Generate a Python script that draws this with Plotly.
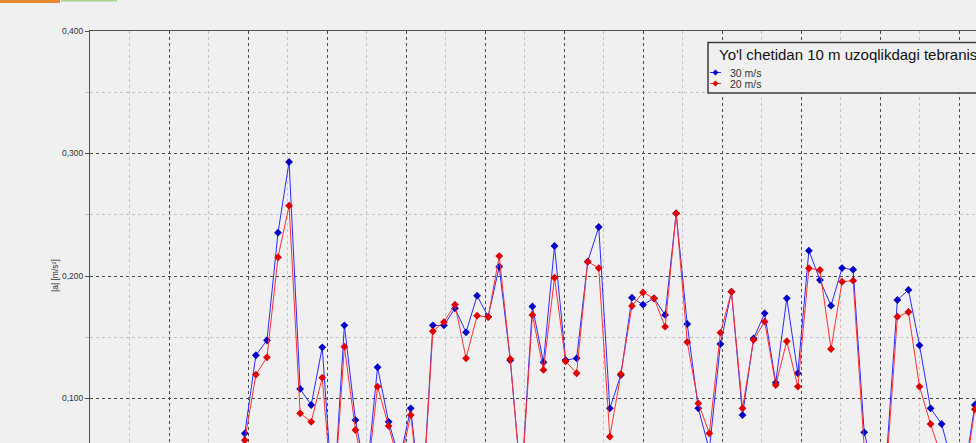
import plotly.graph_objects as go

# sample step along the x axis (major grid every 1.0)
X_STEP = 0.14

# |a| [m/s^2] per sample (values below the visible area are estimates)
ACC_30 = [
    0.012, 0.010, 0.014, 0.011, 0.016, 0.013, 0.018, 0.015, 0.020, 0.017,
    0.024, 0.028, 0.022, 0.020, 0.0716, 0.1353, 0.1475, 0.2354, 0.2931, 0.1078,
    0.0947, 0.1418, 0.012, 0.1597, 0.0824, 0.035, 0.1255, 0.0810, 0.050, 0.0920,
    0.008, 0.1597, 0.1597, 0.1736, 0.1540, 0.1839, 0.1668, 0.2076, 0.1312, 0.030,
    0.1752, 0.1296, 0.2245, 0.1314, 0.1328, 0.2117, 0.2400, 0.0920, 0.1192, 0.1823,
    0.1766, 0.1818, 0.1682, 0.2512, 0.1608, 0.0920, 0.0580, 0.1445, 0.1872, 0.0865,
    0.1490, 0.1695, 0.1129, 0.1818, 0.1206, 0.2207, 0.1967, 0.1758, 0.2065, 0.2052,
    0.0724, 0.035, 0.050, 0.1804, 0.1886, 0.1434, 0.0920, 0.0792, 0.045, 0.035,
    0.0947, 0.1300,
]
ACC_20 = [
    0.010, 0.009, 0.012, 0.010, 0.014, 0.012, 0.016, 0.013, 0.018, 0.015,
    0.021, 0.025, 0.020, 0.018, 0.0660, 0.1195, 0.1336, 0.2153, 0.2574, 0.0879,
    0.0810, 0.1170, 0.010, 0.1423, 0.0743, 0.030, 0.1097, 0.0776, 0.045, 0.0865,
    0.006, 0.1549, 0.1624, 0.1766, 0.1328, 0.1676, 0.1665, 0.2163, 0.1322, 0.028,
    0.1682, 0.1233, 0.1986, 0.1304, 0.1206, 0.2117, 0.2065, 0.0688, 0.1200, 0.1755,
    0.1866, 0.1818, 0.1586, 0.2512, 0.1461, 0.0960, 0.0716, 0.1537, 0.1872, 0.0920,
    0.1478, 0.1627, 0.1110, 0.1467, 0.1097, 0.2063, 0.2049, 0.1404, 0.1954, 0.1962,
    0.0600, 0.030, 0.040, 0.1668, 0.1706, 0.1097, 0.0792, 0.052, 0.040, 0.030,
    0.0912, 0.1250,
]

SERIES_NAMES = ["30 m/s", "20 m/s"]
LEGEND_TITLE = "Yo'l chetidan 10 m uzoqlikdagi tebranis"
Y_LABEL = "|a| [m/s²]"

WIDTH, HEIGHT = 976, 443
M_LEFT, M_TOP = 90, 31
BG = "#f0f0f0"
MAJOR_GRID = "#4a4a4a"
MINOR_GRID = "#c4c4c4"
AXIS_COLOR = "#505050"
TEXT_COLOR = "#333333"
FONT = "Liberation Sans, Arial, sans-serif"

LINE_COLORS = ["#2a2aff", "#ff3030"]
MARKER_COLORS = ["#0000c8", "#e00000"]

PLOT_W = WIDTH - M_LEFT
PLOT_H = HEIGHT - M_TOP


def px(x, y):
    """pixel position on the page -> paper coordinates"""
    return (x - M_LEFT) / PLOT_W, 1 - (y - M_TOP) / PLOT_H


x_vals = [i * X_STEP for i in range(len(ACC_30))]

fig = go.Figure()
for name, values, lc, mc in zip(SERIES_NAMES, [ACC_30, ACC_20], LINE_COLORS, MARKER_COLORS):
    fig.add_trace(
        go.Scatter(
            x=x_vals,
            y=values,
            name=name,
            mode="lines+markers",
            line=dict(color=lc, width=1),
            marker=dict(color=mc, size=6, symbol="diamond"),
            showlegend=False,
        )
    )

shapes = []
# tab strips at the very top of the window
x0, y0 = px(0, 0)
x1, y1 = px(60, 3)
shapes.append(dict(type="rect", xref="paper", yref="paper", x0=x0, x1=x1, y0=y1, y1=y0,
                   fillcolor="#e38a2e", line_width=0, layer="above"))
x0, _ = px(61, 0)
x1, y1 = px(117, 1.5)
shapes.append(dict(type="rect", xref="paper", yref="paper", x0=x0, x1=x1, y0=y1, y1=y0,
                   fillcolor="#a6d490", line_width=0, layer="above"))

# legend box
bx0, by1 = px(708, 42.5)
bx1, by0 = px(1000, 93)
shapes.append(dict(type="rect", xref="paper", yref="paper", x0=bx0, x1=bx1, y0=by0, y1=by1,
                   fillcolor=BG, line=dict(color="#3a3a3a", width=1.5), layer="above"))

annotations = [
    dict(text=LEGEND_TITLE, xref="paper", yref="paper", x=px(717, 0)[0], y=px(0, 55)[1],
         xanchor="left", yanchor="middle", showarrow=False,
         font=dict(family=FONT, size=15, color="#111111")),
    dict(text=Y_LABEL, xref="paper", yref="paper", x=px(55, 0)[0], y=px(0, 276)[1],
         xanchor="center", yanchor="middle", textangle=-90, showarrow=False,
         font=dict(family=FONT, size=8.5, color=TEXT_COLOR)),
]

for k, (name, lc, mc) in enumerate(zip(SERIES_NAMES, LINE_COLORS, MARKER_COLORS)):
    ly = 72.5 + k * 11
    sx0, sy = px(710, ly)
    sx1, _ = px(721, ly)
    shapes.append(dict(type="line", xref="paper", yref="paper", x0=sx0, x1=sx1, y0=sy, y1=sy,
                       line=dict(color=lc, width=1), layer="above"))
    cx, cy = 715.5, ly
    pts = [px(cx, cy - 3), px(cx + 3, cy), px(cx, cy + 3), px(cx - 3, cy)]
    path = "M " + " L ".join(f"{a},{b}" for a, b in pts) + " Z"
    shapes.append(dict(type="path", xref="paper", yref="paper", path=path,
                       fillcolor=mc, line_width=0, layer="above"))
    annotations.append(
        dict(text=name, xref="paper", yref="paper", x=px(728, 0)[0], y=px(0, ly)[1],
             xanchor="left", yanchor="middle", showarrow=False,
             font=dict(family=FONT, size=10.5, color=TEXT_COLOR))
    )

fig.update_layout(
    width=WIDTH,
    height=HEIGHT,
    margin=dict(l=M_LEFT, r=0, t=M_TOP, b=0, pad=0),
    paper_bgcolor=BG,
    plot_bgcolor=BG,
    separators=", ",
    font=dict(family=FONT, size=8.5, color=TEXT_COLOR),
    shapes=shapes,
    annotations=annotations,
    showlegend=False,
)

fig.update_xaxes(
    range=[0, PLOT_W / 79],
    side="top",
    showline=True,
    linecolor=AXIS_COLOR,
    linewidth=1,
    showticklabels=False,
    ticks="",
    tick0=0,
    dtick=1,
    showgrid=True,
    gridcolor=MAJOR_GRID,
    griddash="dot",
    gridwidth=1,
    zeroline=False,
    minor=dict(dtick=0.5, showgrid=True, gridcolor=MINOR_GRID, griddash="dot"),
)

fig.update_yaxes(
    range=[0.4 - PLOT_H / 1225, 0.4],
    showline=True,
    linecolor=AXIS_COLOR,
    linewidth=1,
    tick0=0,
    dtick=0.1,
    tickformat=".3f",
    ticks="outside",
    ticklen=4,
    tickcolor=AXIS_COLOR,
    showgrid=True,
    gridcolor=MAJOR_GRID,
    griddash="dot",
    gridwidth=1,
    zeroline=False,
    tickfont=dict(family=FONT, size=8.5, color=TEXT_COLOR),
    minor=dict(dtick=0.05, showgrid=True, gridcolor=MINOR_GRID, griddash="dot",
               ticks="outside", ticklen=4, tickcolor=MINOR_GRID),
)

# the page's default body margin would shift the chart by 8px
fig.write_html(
    "out.html",
    config={"displayModeBar": False},
    post_script="document.body.style.margin='0';document.body.style.overflow='hidden';",
)
